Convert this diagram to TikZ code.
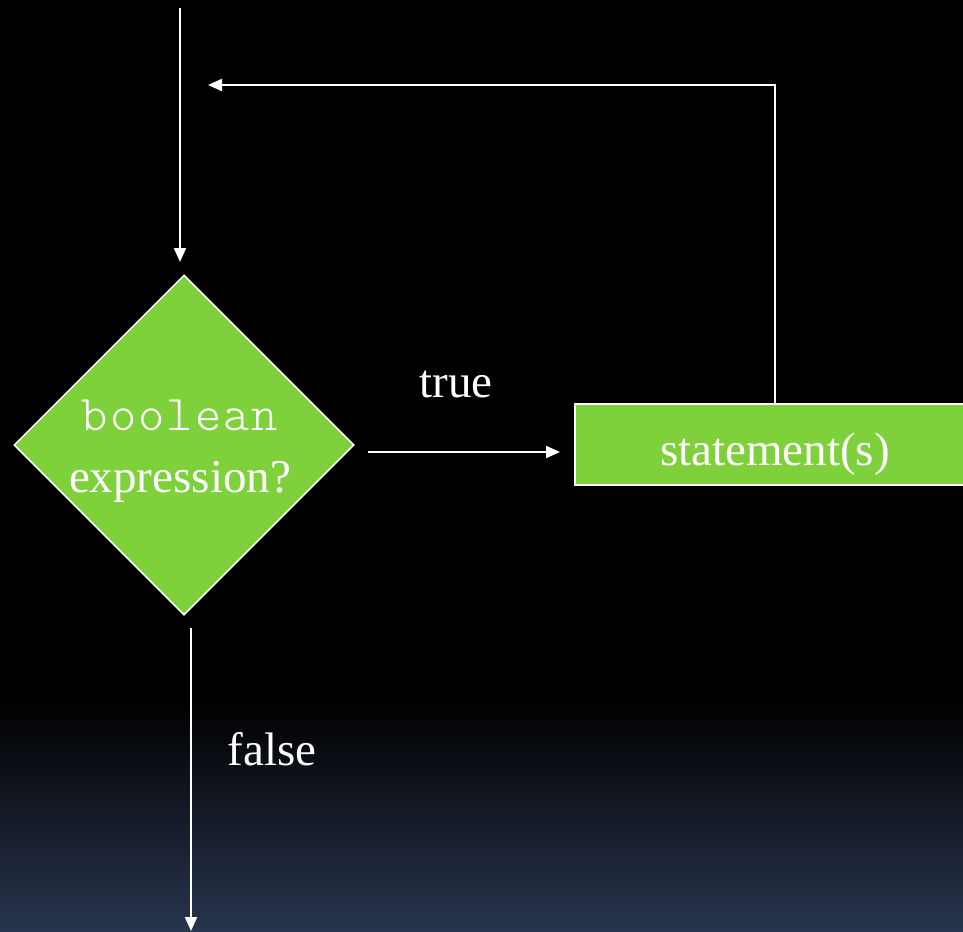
\documentclass[tikz,border=0pt]{standalone}
\usepackage{fontspec}
\setmainfont{Liberation Serif}
\newfontfamily\lmlight{Latin Modern Mono Light}[LetterSpace=4.1]
\usetikzlibrary{shapes.geometric,arrows.meta}
\definecolor{boxgreen}{RGB}{127,209,59}
\definecolor{bgbottom}{RGB}{40,53,78}
\tikzset{
  arr/.style={draw=white,line width=2pt,-{Triangle[length=14pt,width=12pt]}},
  bigtext/.style={text=white,font=\fontsize{47}{56}\selectfont,inner sep=0pt,anchor=base},
  decision/.style={diamond,aspect=1,fill=boxgreen,draw=white,line width=1.5pt,minimum width=340pt,minimum height=340pt,inner sep=0pt},
  procbox/.style={rectangle,fill=boxgreen,draw=white,line width=2pt,minimum width=400pt,minimum height=81pt,inner sep=0pt}
}
\begin{document}
\begin{tikzpicture}[x=1pt,y=-1pt]
\useasboundingbox (0,0) rectangle (963,931);
\fill[black] (0,0) rectangle (963,700);
\shade[top color=black,bottom color=bgbottom] (0,700) rectangle (963,931);
% nodes
\node[decision] (dec) at (184,445) {};
\node[bigtext] (lb1) at (180,430) {\lmlight\fontsize{50}{56}\selectfont boolean};
\node[bigtext] (lb2) at (180,492) {expression?};
\node[procbox] (stmt) at (775,444.5) {};
\node[bigtext] (st) at (775,465) {statement(s)};
\node[bigtext] (tr) at (456,397) {true};
\node[bigtext] (fa) at (272,765) {false};
% coordinates
\coordinate (in0) at (180,8);
\coordinate (in1) at (180,262);
\coordinate (lp1) at (775,85);
\coordinate (lp2) at (208,85);
\coordinate (t0) at (368,452);
\coordinate (t1) at (560,452);
\coordinate (f0) at (191,628);
\coordinate (f1) at (191,931);
% connectors
\draw[arr] (in0) -- (in1);
\draw[arr] (stmt.north) -- (lp1) -- (lp2);
\draw[arr] (t0) -- (t1);
\draw[arr] (f0) -- (f1);
\end{tikzpicture}
\end{document}
